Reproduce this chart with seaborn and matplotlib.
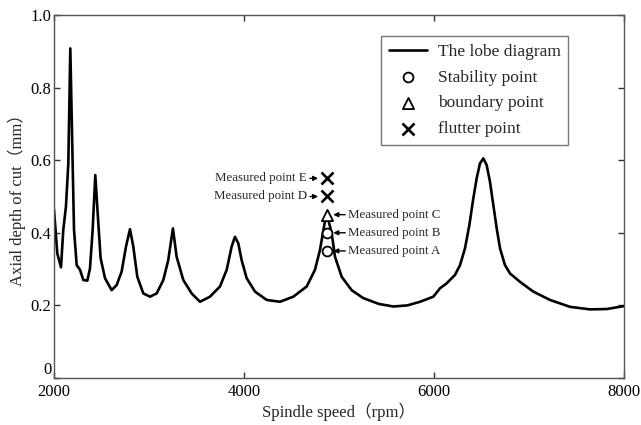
import numpy as np
import pandas as pd
import matplotlib
matplotlib.use("Agg")
import matplotlib.pyplot as plt
import seaborn as sns

# Lobe diagram
speed = [2000, 2035, 2074, 2098, 2126, 2151, 2172, 2193, 2211, 2239, 2274, 2309,
         2351, 2379, 2407, 2435, 2460, 2491, 2537, 2607, 2660, 2712, 2758, 2800,
         2835, 2877, 2940, 3011, 3081, 3151, 3203, 3252, 3291, 3361, 3449, 3537,
         3642, 3747, 3818, 3870, 3905, 3940, 3975, 4028, 4116, 4239, 4379, 4519,
         4660, 4747, 4800, 4842, 4870, 4923, 4958, 5028, 5133, 5256, 5420, 5572,
         5720, 5853, 5993, 6063, 6134, 6221, 6274, 6326, 6372, 6414, 6449, 6484,
         6519, 6554, 6589, 6624, 6660, 6695, 6747, 6800, 6905, 7045, 7221, 7432,
         7642, 7818, 7976, 8000]
depth = [0.465, 0.343, 0.305, 0.408, 0.472, 0.591, 0.908, 0.637, 0.408, 0.311, 0.298, 0.270,
         0.268, 0.302, 0.408, 0.559, 0.454, 0.330, 0.275, 0.242, 0.256, 0.293, 0.362, 0.410,
         0.362, 0.279, 0.233, 0.224, 0.233, 0.270, 0.325, 0.412, 0.334, 0.270, 0.233, 0.210,
         0.224, 0.252, 0.298, 0.362, 0.389, 0.371, 0.325, 0.275, 0.238, 0.215, 0.210, 0.224,
         0.252, 0.298, 0.353, 0.417, 0.454, 0.399, 0.334, 0.279, 0.242, 0.220, 0.204, 0.197,
         0.200, 0.210, 0.224, 0.247, 0.261, 0.284, 0.311, 0.357, 0.421, 0.495, 0.550, 0.591,
         0.605, 0.587, 0.541, 0.477, 0.412, 0.357, 0.311, 0.288, 0.265, 0.238, 0.215, 0.196,
         0.189, 0.190, 0.197, 0.198]

# Measured points
stable_speed = [4870, 4870]
stable_depth = [0.35, 0.40]
boundary_speed = [4870]
boundary_depth = [0.45]
flutter_speed = [4870, 4870]
flutter_depth = [0.50, 0.55]
point_labels = ["Measured point A", "Measured point B", "Measured point C",
                "Measured point D", "Measured point E"]

x_ticks = [2000, 4000, 6000, 8000]
y_ticks = [0, 0.2, 0.4, 0.6, 0.8, 1.0]
y_tick_labels = ["0", "0.2", "0.4", "0.6", "0.8", "1.0"]

sns.set_theme(style="white")
plt.rcParams['font.family'] = ['Liberation Serif', 'Noto Sans CJK SC', 'DejaVu Sans']

fig = plt.figure(figsize=(6.41, 4.25), dpi=100)
ax = fig.add_axes([0.0842, 0.1106, 0.8893, 0.8541])

df = pd.DataFrame({"speed": speed, "depth": depth})
sns.lineplot(data=df, x="speed", y="depth", ax=ax, color="black", lw=1.9,
             sort=False, label="The lobe diagram")
sns.scatterplot(x=stable_speed, y=stable_depth, ax=ax, marker="o", s=50,
                facecolor="white", edgecolor="black", linewidth=1.3, label="Stability point", zorder=3)
sns.scatterplot(x=boundary_speed, y=boundary_depth, ax=ax, marker="^", s=65,
                facecolor="white", edgecolor="black", linewidth=1.3, label="boundary point", zorder=3)
sns.scatterplot(x=flutter_speed, y=flutter_depth, ax=ax, marker="x", s=75,
                color="black", linewidth=1.9, label="flutter point", zorder=3)

ax.set_xlim(2000, 8000)
ax.set_ylim(0, 1.0)
ax.set_xticks(x_ticks)
ax.set_xticklabels([str(t) for t in x_ticks])
ax.set_yticks(y_ticks)
ax.set_yticklabels(y_tick_labels)
ax.tick_params(direction="in", length=4, width=1, colors="#333333", labelcolor="black",
               labelsize=12, top=True, right=True, bottom=True, left=True, pad=2)
ax.tick_params(axis="x", pad=4)
ax.get_yticklabels()[0].set_va("bottom")
for s in ax.spines.values():
    s.set_color("#555555")
    s.set_linewidth(1.0)

ax.set_xlabel("Spindle speed（rpm）", fontsize=12, labelpad=2)
ax.set_ylabel("Axial depth of cut（mm）", fontsize=12, labelpad=3)

# annotations
all_depth = stable_depth + boundary_depth + flutter_depth
all_speed = stable_speed + boundary_speed + flutter_speed
for lab, xs, ys in zip(point_labels, all_speed, all_depth):
    if lab[-1] in "DE":
        ax.annotate(lab, xy=(xs - 90, ys), xytext=(xs - 210, ys), fontsize=9.3,
                    ha="right", va="center",
                    arrowprops=dict(arrowstyle="-|>", color="black", lw=1.0,
                                    mutation_scale=7, shrinkA=0, shrinkB=0))
    else:
        ax.annotate(lab, xy=(xs + 70, ys), xytext=(xs + 230, ys), fontsize=9.3,
                    ha="left", va="center",
                    arrowprops=dict(arrowstyle="-|>", color="black", lw=1.0,
                                    mutation_scale=7, shrinkA=0, shrinkB=0))

leg = ax.legend(loc="upper left", bbox_to_anchor=(0.574, 0.942), fontsize=12.5,
                frameon=True, fancybox=False, edgecolor="#555555",
                handlelength=2.2, handletextpad=0.6, labelspacing=0.55, borderpad=0.45,
                borderaxespad=0)
leg.get_frame().set_linewidth(1.0)

fig.savefig("out.png", dpi=100)
